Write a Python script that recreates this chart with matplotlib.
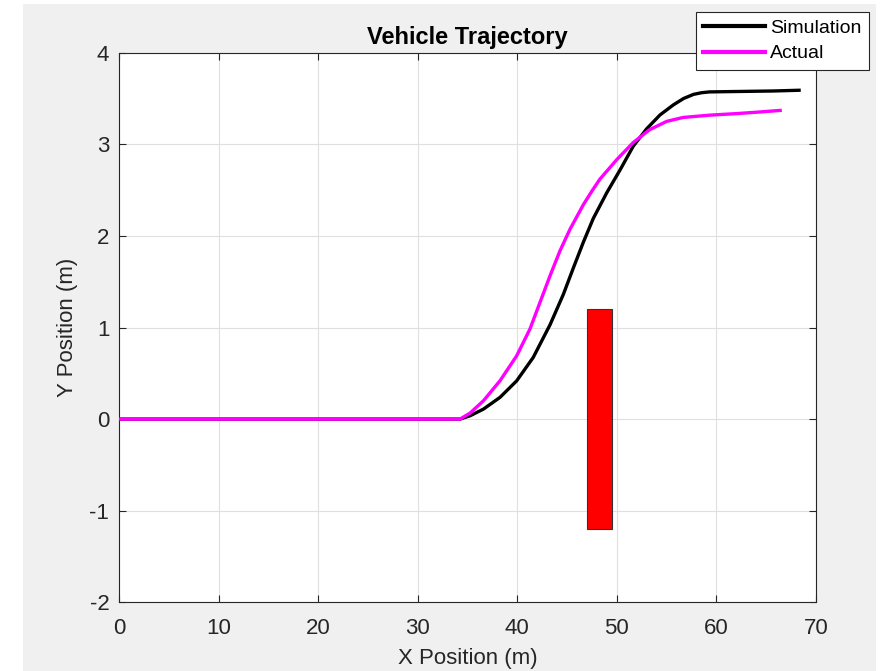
import matplotlib
matplotlib.use("Agg")
import matplotlib.pyplot as plt
from matplotlib.patches import Rectangle

plt.rcParams['font.family'] = ['Liberation Sans', 'DejaVu Sans']

sim_x = [0, 34.25, 35.25, 36.6, 38.26, 39.94, 41.6, 43.29, 44.62, 45.63, 46.63, 47.63,
         48.98, 50.32, 51.65, 53.0, 54.33, 55.67, 56.7, 57.7, 58.5, 59.3, 62.4, 65.7, 68.3]
sim_y = [0, 0, 0.036, 0.109, 0.237, 0.418, 0.673, 1.03, 1.36, 1.65, 1.93, 2.19,
         2.47, 2.72, 2.98, 3.17, 3.32, 3.43, 3.50, 3.545, 3.563, 3.572, 3.577, 3.582, 3.59]

act_x = [0, 34.25, 35.25, 36.6, 38.26, 39.94, 41.27, 42.28, 43.29, 44.29, 45.3, 46.63,
         47.5, 48.3, 49.97, 51.65, 53.3, 55.0, 56.65, 59.3, 62.0, 64.0, 66.4]
act_y = [0, 0, 0.065, 0.2, 0.418, 0.691, 0.983, 1.274, 1.565, 1.838, 2.074, 2.34,
         2.49, 2.62, 2.83, 3.02, 3.16, 3.25, 3.293, 3.318, 3.335, 3.35, 3.37]

obstacle_x = 47.0
obstacle_w = 2.5
obstacle_y = -1.2
obstacle_h = 2.4

xticks = [0, 10, 20, 30, 40, 50, 60, 70]
yticks = [-2, -1, 0, 1, 2, 3, 4]

fig = plt.figure(figsize=(8.82, 6.71), dpi=100)
fig.patch.set_facecolor('white')
fig.patches.append(Rectangle((23/882, 0), (876-23)/882, (671-4)/671,
                             transform=fig.transFigure, facecolor='#f0f0f0',
                             edgecolor='none', zorder=-10))

ax = fig.add_axes([119/882, (671-602.3)/671, (816-119)/882, (602.3-52.7)/671])
ax.set_facecolor('white')

ax.plot(sim_x, sim_y, color='black', lw=2.4, label='Simulation', zorder=3,
        solid_joinstyle='round')
ax.plot(act_x, act_y, color='#ff00ff', lw=2.4, label='Actual', zorder=4,
        solid_joinstyle='round')
ax.add_patch(Rectangle((obstacle_x, obstacle_y), obstacle_w, obstacle_h,
                       facecolor='#ff0000', edgecolor='#333333', lw=0.8, zorder=5))

ax.set_xlim(0, 70)
ax.set_ylim(-2, 4)
ax.set_xticks(xticks)
ax.set_yticks(yticks)
ax.set_xticklabels([str(v) for v in xticks])
ax.set_yticklabels([str(v) for v in yticks])
ax.grid(True, color='#dfdfdf', lw=0.8, zorder=0)
ax.set_axisbelow(True)
ax.tick_params(direction='in', length=5, width=0.8, top=True, right=True,
               labelsize=16, colors='#262626')
ax.tick_params(axis='x', pad=11)
ax.tick_params(axis='y', pad=7)
for s in ax.spines.values():
    s.set_color('#262626')
    s.set_linewidth(0.8)

ax.set_xlabel('X Position (m)', fontsize=16, color='#262626', labelpad=7)
ax.set_ylabel('Y Position (m)', fontsize=16, color='#262626', labelpad=8)
ax.set_title('Vehicle Trajectory', fontsize=17, fontweight='bold', pad=6)

leg = ax.legend(loc='upper right', bbox_to_anchor=(869/882, 1-12/671),
                bbox_transform=fig.transFigure, fontsize=14, frameon=True,
                fancybox=False, edgecolor='#262626', framealpha=1,
                handlelength=3.2, handletextpad=0.25, borderpad=0.38,
                labelspacing=0.4, borderaxespad=0)
leg.get_frame().set_linewidth(0.8)
for h in leg.get_lines():
    h.set_linewidth(3)

fig.savefig('out.png', dpi=100)
